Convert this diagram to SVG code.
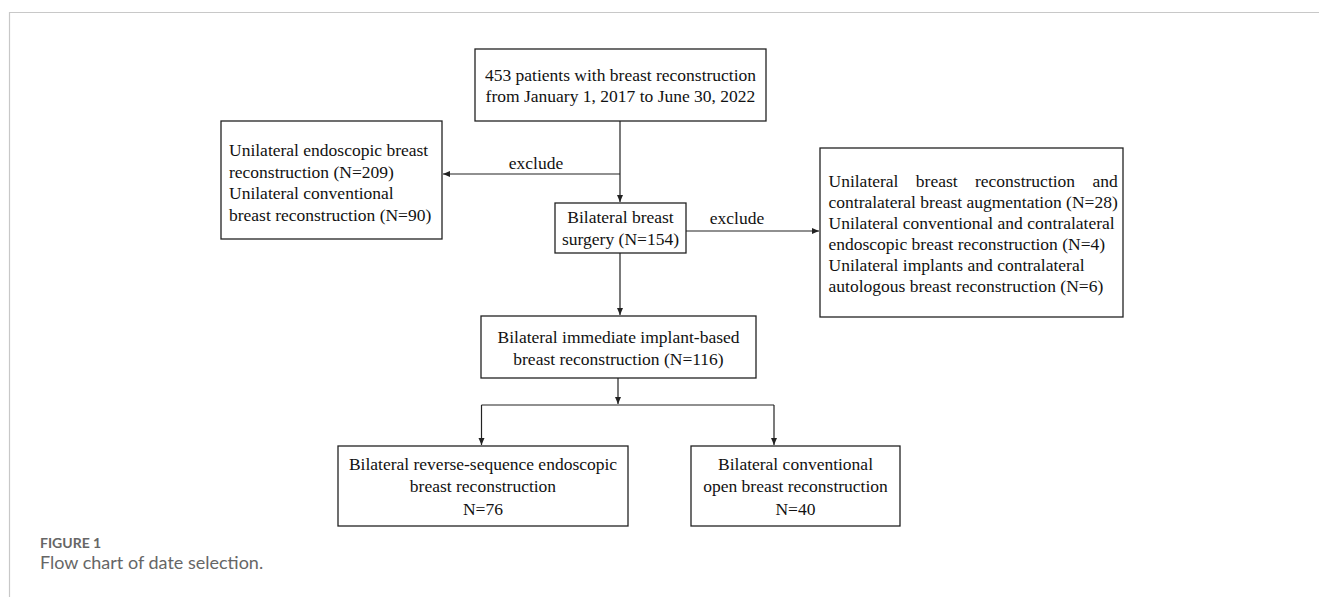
<svg xmlns="http://www.w3.org/2000/svg" width="1319" height="597" viewBox="0 0 1319 597">
<style>
.box{fill:#fff;stroke:#222;stroke-width:1.3}
.t{font-family:"Liberation Serif","Times New Roman",serif;font-size:17.5px;fill:#111}
.c{text-anchor:middle}
.ln{fill:none;stroke:#222;stroke-width:1.2}
.frame{fill:none;stroke:#c8c8c8;stroke-width:1.2}
.cap1{font-family:Lato,"Open Sans",sans-serif;font-size:14px;font-weight:bold;fill:#666}
.cap2{font-family:Lato,"Open Sans",sans-serif;font-size:18px;fill:#666}
</style>
<defs>
<marker id="ah" markerUnits="userSpaceOnUse" markerWidth="8" markerHeight="7" refX="7" refY="3" orient="auto">
<path d="M0,0 L7,3 L0,6 z" fill="#222"/>
</marker>
</defs>
<rect width="1319" height="597" fill="#fff"/>
<path class="frame" d="M9.5,597 V12.5 H1319"/>

<g id="connectors">
<line class="ln" x1="620" y1="121" x2="620" y2="202" marker-end="url(#ah)"/>
<line class="ln" x1="620" y1="174" x2="443" y2="174" marker-end="url(#ah)"/>
<line class="ln" x1="686" y1="231" x2="819" y2="231" marker-end="url(#ah)"/>
<line class="ln" x1="620" y1="253" x2="620" y2="315" marker-end="url(#ah)"/>
<line class="ln" x1="618" y1="378" x2="618" y2="404" marker-end="url(#ah)"/>
<line class="ln" x1="481.5" y1="405" x2="774" y2="405"/>
<line class="ln" x1="481.5" y1="405" x2="481.5" y2="445" marker-end="url(#ah)"/>
<line class="ln" x1="774" y1="405" x2="774" y2="445" marker-end="url(#ah)"/>
<text class="t c" x="536" y="169">exclude</text>
<text class="t c" x="737" y="224">exclude</text>
</g>

<g id="n-start">
<rect class="box" x="475" y="49" width="291" height="72"/>
<text class="t c" x="620.5" y="80.5">453 patients with breast reconstruction</text>
<text class="t c" x="620.5" y="102">from January 1, 2017 to June 30, 2022</text>
</g>

<g id="n-excl1">
<rect class="box" x="221" y="121" width="221" height="118"/>
<text class="t" x="229" y="156">Unilateral endoscopic breast</text>
<text class="t" x="229" y="177.5">reconstruction (N=209)</text>
<text class="t" x="229" y="199">Unilateral conventional</text>
<text class="t" x="229" y="220.5">breast reconstruction (N=90)</text>
</g>

<g id="n-bilateral">
<rect class="box" x="555" y="203" width="131" height="50"/>
<text class="t c" x="620.5" y="222.5">Bilateral breast</text>
<text class="t c" x="620.5" y="244.5">surgery (N=154)</text>
</g>

<g id="n-excl2">
<rect class="box" x="820" y="148" width="303" height="169"/>
<text class="t" x="828.5" y="186.5" word-spacing="13">Unilateral breast reconstruction and</text>
<text class="t" x="828.5" y="207.5">contralateral breast augmentation (N=28)</text>
<text class="t" x="828.5" y="228.5">Unilateral conventional and contralateral</text>
<text class="t" x="828.5" y="249.5">endoscopic breast reconstruction (N=4)</text>
<text class="t" x="828.5" y="270.5">Unilateral implants and contralateral</text>
<text class="t" x="828.5" y="291.5">autologous breast reconstruction (N=6)</text>
</g>

<g id="n-immediate">
<rect class="box" x="481" y="316" width="275" height="62"/>
<text class="t c" x="618.5" y="343">Bilateral immediate implant-based</text>
<text class="t c" x="618.5" y="365">breast reconstruction (N=116)</text>
</g>

<g id="n-endo">
<rect class="box" x="338" y="446" width="290" height="80"/>
<text class="t c" x="483" y="469.5">Bilateral reverse-sequence endoscopic</text>
<text class="t c" x="483" y="492">breast reconstruction</text>
<text class="t c" x="483" y="514.5">N=76</text>
</g>

<g id="n-open">
<rect class="box" x="691" y="446" width="209" height="80"/>
<text class="t c" x="795.5" y="469.5">Bilateral conventional</text>
<text class="t c" x="795.5" y="492">open breast reconstruction</text>
<text class="t c" x="795.5" y="514.5">N=40</text>
</g>

<text class="cap1" x="40" y="548">FIGURE 1</text>
<text class="cap2" x="40" y="569">Flow chart of date selection.</text>
</svg>
